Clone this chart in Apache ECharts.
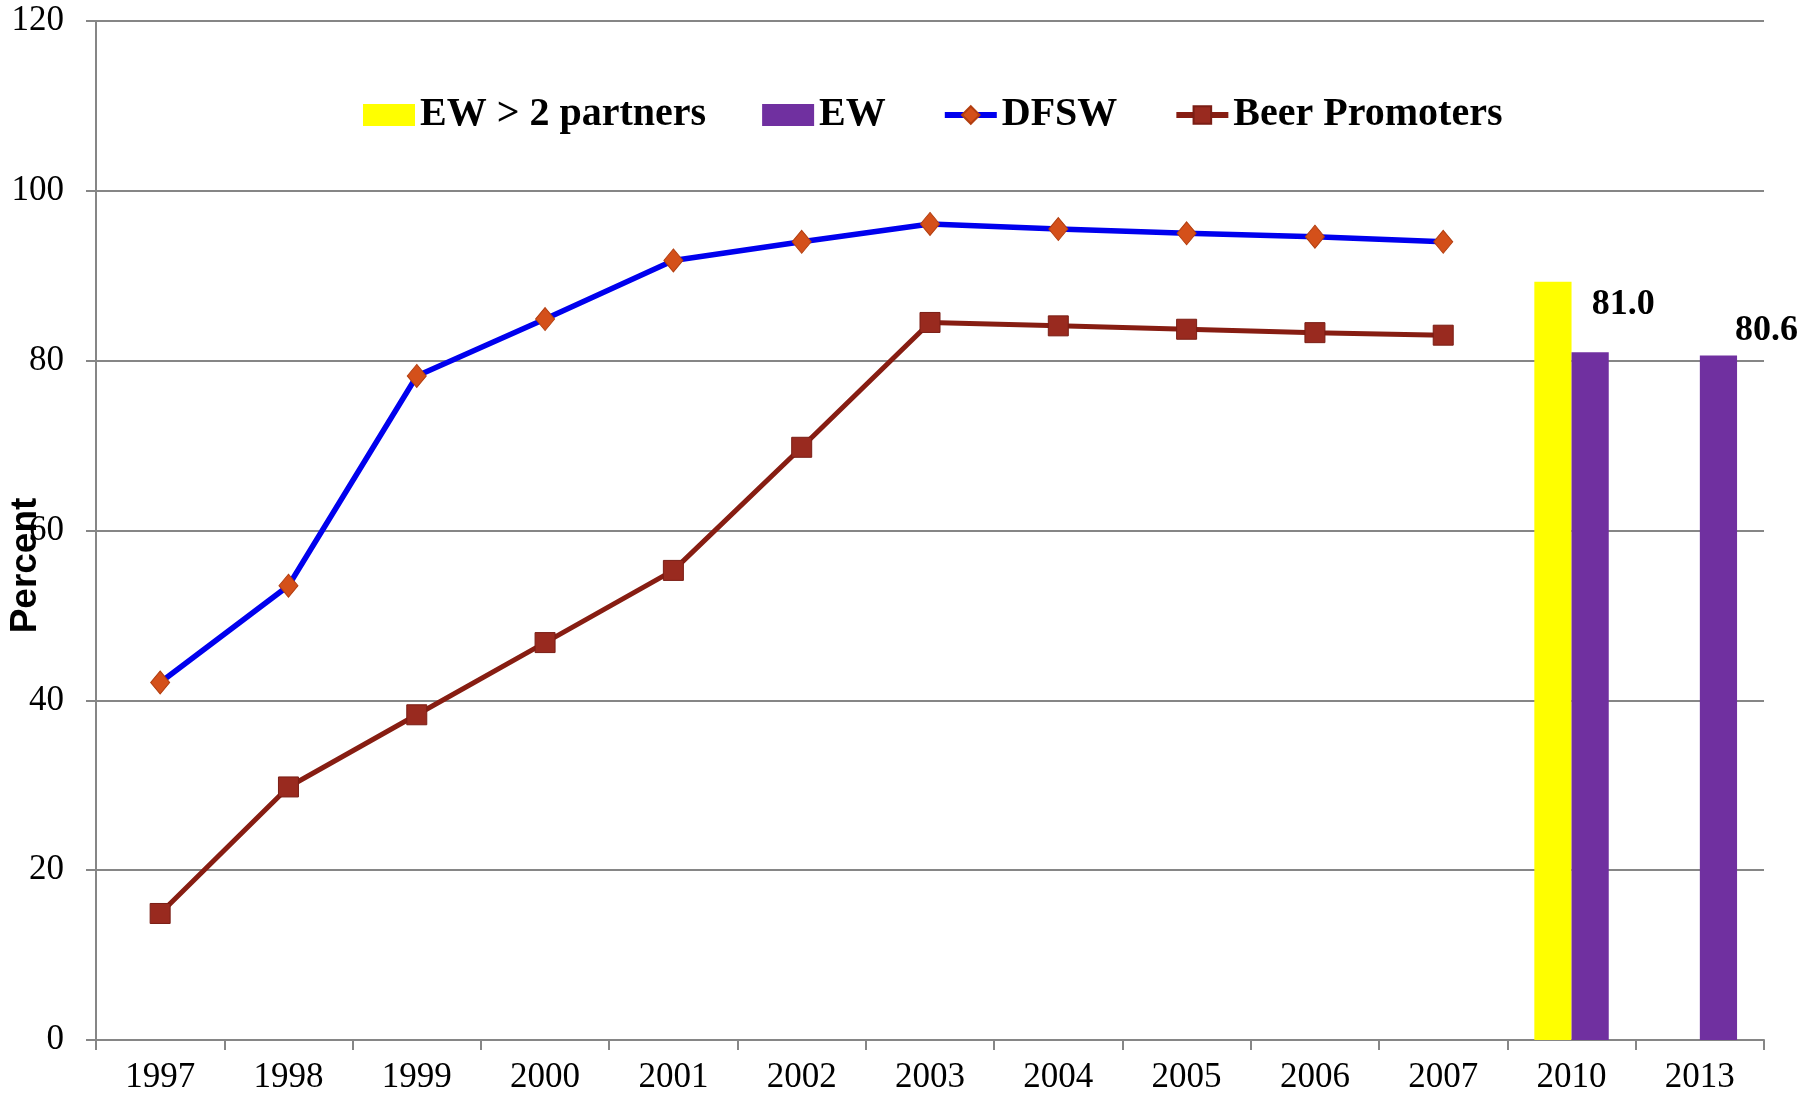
<!DOCTYPE html>
<html>
<head>
<meta charset="utf-8">
<title>Percent</title>
<script src="https://cdn.jsdelivr.net/npm/echarts@6/dist/echarts.min.js"></script>
<style>
  html, body { margin: 0; padding: 0; background: #fff; }
  #chart { width: 1817px; height: 1098px; }
</style>
</head>
<body>
<div id="chart"></div>
<script>
// categories on the x axis
const years = ['1997', '1998', '1999', '2000', '2001', '2002', '2003', '2004', '2005', '2006', '2007', '2010', '2013'];

// line series (1997-2007 only)
const dfsw = [42.1, 53.5, 78.2, 84.9, 91.8, 94.0, 96.1, 95.5, 95.0, 94.6, 94.0, null, null];
const beerPromoters = [14.9, 29.8, 38.3, 46.8, 55.3, 69.8, 84.5, 84.1, 83.7, 83.3, 83.0, null, null];

// bar series (2010 and 2013 only)
const ewMoreThan2 = [null, null, null, null, null, null, null, null, null, null, null, 89.3, null];
const ew = [null, null, null, null, null, null, null, null, null, null, null, 81.0, 80.6];

const serif = 'Liberation Serif';

const chart = echarts.init(document.getElementById('chart'));

// value labels on the EW bars sit up and to the right of the bar
const ewLabelOffsets = { 11: [33, -24], 12: [48, -2] };
const ewData = ew.map((v, i) => {
    if (v == null) return v;
    return {
        value: v,
        label: {
            show: true,
            position: 'top',
            offset: ewLabelOffsets[i],
            formatter: (p) => p.value.toFixed(1),
            fontFamily: serif,
            fontWeight: 'bold',
            fontSize: 36,
            color: '#000'
        }
    };
});

const option = {
    animation: false,
    backgroundColor: '#fff',
    grid: { left: 96, right: 53, top: 21, bottom: 58, outerBoundsMode: 'none' },
    legend: {
        left: 358,
        top: 90,
        itemWidth: 52,
        itemHeight: 22,
        itemGap: 56,
        textStyle: { fontFamily: serif, fontWeight: 'bold', fontSize: 40, color: '#000' },
        data: [
            { name: 'EW > 2 partners', icon: 'rect' },
            { name: 'EW', icon: 'rect' },
            { name: 'DFSW', lineStyle: { width: 6 } },
            { name: 'Beer Promoters', lineStyle: { width: 6 } }
        ]
    },
    xAxis: {
        type: 'category',
        data: years,
        axisLine: { lineStyle: { color: '#868686', width: 2 } },
        axisTick: { show: true, length: 10, lineStyle: { color: '#868686', width: 2 } },
        axisLabel: { fontFamily: serif, fontSize: 35, color: '#000', margin: 20 }
    },
    yAxis: {
        type: 'value',
        min: 0,
        max: 120,
        interval: 20,
        name: 'Percent',
        nameLocation: 'middle',
        nameRotate: 90,
        nameGap: 52,
        nameMoveOverlap: false,
        nameTextStyle: {
            fontFamily: 'Liberation Sans',
            fontWeight: 'bold',
            fontSize: 37,
            color: '#000',
            padding: [0, 70, 0, 0]
        },
        axisLine: { show: true, lineStyle: { color: '#868686', width: 2 } },
        axisTick: { show: true, length: 10, lineStyle: { color: '#868686', width: 2 } },
        splitLine: { lineStyle: { color: '#868686', width: 2 } },
        axisLabel: { fontFamily: serif, fontSize: 35, color: '#000', margin: 32 }
    },
    series: [
        {
            name: 'EW > 2 partners',
            type: 'bar',
            data: ewMoreThan2,
            barGap: 0,
            barCategoryGap: '42%',
            itemStyle: { color: '#FFFF00' }
        },
        {
            name: 'EW',
            type: 'bar',
            data: ewData,
            barGap: 0,
            barCategoryGap: '42%',
            itemStyle: { color: '#7030A0' }
        },
        {
            name: 'DFSW',
            type: 'line',
            data: dfsw,
            symbol: 'diamond',
            symbolSize: [19, 23],
            lineStyle: { color: '#0000EE', width: 5.5 },
            itemStyle: { color: '#D4501A', borderColor: '#B23E10', borderWidth: 1 },
            z: 3
        },
        {
            name: 'Beer Promoters',
            type: 'line',
            data: beerPromoters,
            symbol: 'rect',
            symbolSize: 20,
            lineStyle: { color: '#871D12', width: 5 },
            itemStyle: { color: '#992A1F', borderColor: '#7A1D14', borderWidth: 1 },
            z: 3
        }
    ]
};

option && chart.setOption(option);
</script>
</body>
</html>
